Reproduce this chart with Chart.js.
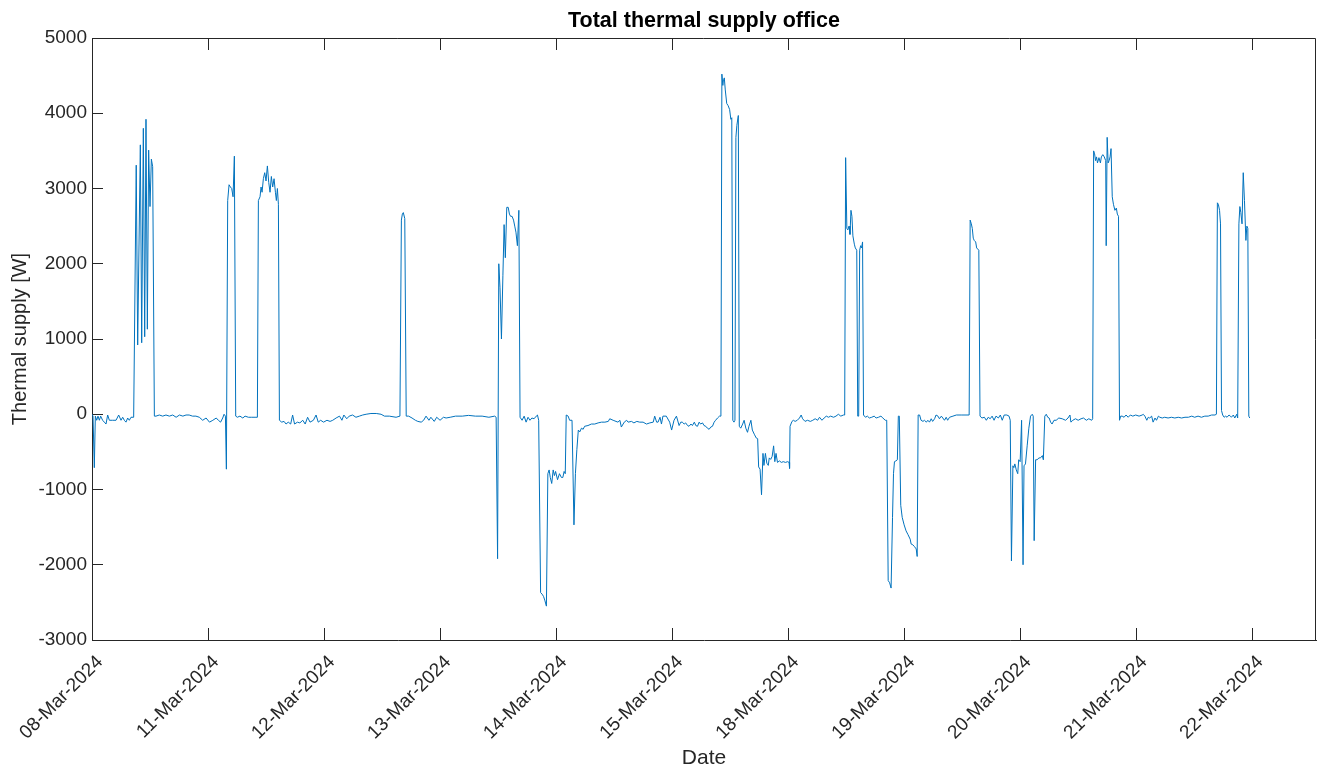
<!DOCTYPE html>
<html>
<head>
<meta charset="utf-8">
<script src="https://cdn.jsdelivr.net/npm/chart.js@4.4.1/dist/chart.umd.min.js"></script>
<style>
html,body{margin:0;padding:0;background:#fff;}
#wrap{width:1320px;height:771px;}
</style>
</head>
<body>
<div id="wrap"><canvas id="c" width="1320" height="771"></canvas></div>
<script>
// Tick labels (one per plotted day, weekends are skipped on the axis)
const dayLabels = ['08-Mar-2024','11-Mar-2024','12-Mar-2024','13-Mar-2024','14-Mar-2024','15-Mar-2024','18-Mar-2024','19-Mar-2024','20-Mar-2024','21-Mar-2024','22-Mar-2024'];
const yTicks = [-3000, -2000, -1000, 0, 1000, 2000, 3000, 4000, 5000];

// Thermal supply [W]; pairs of [hour of day, watts]
const d08Mar = [[0,0],[0.21,-25],[0.48,-710],[0.69,-25],[0.97,-80],[1.24,-25],[1.52,-80],[1.79,-25],[2.2,-80],[2.55,-105],[2.9,-130],[3.24,-10],[3.59,-80],[4.28,-80],[4.97,-80],[5.52,-10],[6.0,-80],[6.35,-40],[6.69,-80],[7.03,-105],[7.38,-50],[7.72,-80],[8.07,-40],[8.62,-40],[9.15,3310],[9.45,920],[10.0,3580],[10.28,950],[10.62,3800],[10.9,1030],[11.17,3920],[11.45,1130],[11.72,3510],[12.0,2760],[12.28,3390],[12.55,3290],[12.9,-25],[13.24,-25],[13.93,-10],[14.62,-25],[15.3,-10],[16.0,-25],[16.7,-10],[17.4,-40],[18.1,-10],[18.8,-25],[19.45,-10],[20.1,-10],[20.8,-25],[21.5,-25],[22.2,-40],[22.9,-80],[23.6,-50]];
const d11Mar = [[0.3,-105],[1.0,-80],[1.7,-50],[2.14,-80],[2.6,-105],[3.04,-50],[3.32,0],[3.6,-25],[3.8,-730],[4.07,2840],[4.35,3050],[4.63,3020],[4.9,3000],[5.18,2890],[5.45,3430],[5.73,-25],[6.07,-40],[6.6,-25],[7.2,-50],[7.66,-25],[8.35,-40],[9.04,-40],[9.73,-40],[10.21,-40],[10.42,2840],[10.76,2890],[10.97,3020],[11.18,2950],[11.45,3130],[11.73,3210],[12.0,3100],[12.28,3300],[12.56,3080],[12.83,2950],[13.1,3160],[13.38,3020],[13.66,3130],[13.94,2950],[14.14,2840],[14.35,3000],[14.56,2790],[14.77,-80],[15.25,-105],[15.73,-95],[16.14,-130],[16.6,-105],[17.1,-130],[17.5,-10],[17.9,-130],[18.5,-105],[19.0,-115],[19.6,-80],[20.1,-130],[20.6,-40],[21.1,-105],[21.8,-80],[22.35,-10],[22.8,-105],[23.3,-80],[23.9,-105]];
const d12Mar = [[0.6,-80],[1.25,-95],[1.8,-80],[2.5,-50],[3.2,-25],[3.7,-80],[4.1,-10],[4.7,-60],[5.2,-25],[5.9,-10],[6.6,-40],[7.3,-25],[8.0,-10],[8.7,0],[9.7,10],[10.8,10],[11.8,0],[12.5,-25],[13.5,-25],[14.9,-40],[15.7,-25],[16.0,2580],[16.2,2660],[16.4,2680],[16.7,2600],[17.0,-25],[17.5,-25],[18.2,-50],[18.9,-80],[19.4,-95],[20.1,-105],[20.6,-80],[21.1,-25],[21.7,-80],[22.1,-40],[22.8,-95],[23.3,-40]];
const d13Mar = [[0.0,-80],[0.7,-40],[1.25,-50],[2.1,-40],[3.2,-25],[4.6,-25],[5.9,-15],[7.3,-25],[8.7,-25],[10.1,-40],[11.3,-25],[11.6,-40],[11.9,-1920],[12.15,2000],[12.4,1680],[12.7,1000],[13.0,1840],[13.25,2520],[13.5,2080],[13.8,2750],[14.1,2750],[14.35,2660],[14.6,2630],[14.9,2630],[15.2,2580],[15.45,2500],[15.7,2420],[16.0,2240],[16.3,2710],[16.55,-40],[16.97,-80],[17.4,-25],[17.8,-105],[18.2,-40],[18.6,-80],[19.0,-50],[19.45,-60],[19.9,-25],[20.15,-10],[20.4,-80],[20.8,-2370],[21.1,-2390],[21.4,-2420],[21.66,-2470],[22.0,-2550],[22.3,-790],[22.56,-740],[22.8,-840],[23.1,-920],[23.4,-740],[23.66,-815],[23.9,-760]];
const d14Mar = [[0.3,-870],[0.7,-790],[1.1,-840],[1.4,-840],[1.66,-760],[1.9,-790],[2.1,-10],[2.5,-25],[2.8,-80],[3.3,-80],[3.7,-1470],[4.0,-790],[4.3,-470],[4.6,-210],[4.9,-235],[5.25,-185],[5.6,-200],[5.9,-160],[6.6,-150],[7.3,-130],[8.0,-130],[8.7,-115],[9.4,-105],[10.1,-105],[10.8,-95],[11.1,-60],[11.8,-80],[12.8,-105],[13.2,-80],[13.5,-170],[14.1,-105],[14.6,-80],[14.9,-105],[15.6,-95],[16.1,-115],[16.7,-95],[17.3,-105],[18.0,-105],[18.7,-130],[19.4,-115],[20.1,-105],[20.4,-25],[20.8,-105],[21.1,-105],[21.5,-40],[21.8,-130],[22.1,-25],[22.8,-25],[23.5,-105],[23.9,-210]];
const d15Mar = [[0.4,-80],[0.9,-25],[1.45,-150],[1.8,-105],[2.1,-105],[2.5,-130],[2.8,-115],[3.2,-150],[3.5,-160],[3.9,-130],[4.2,-150],[4.6,-105],[4.9,-150],[5.25,-160],[5.6,-105],[5.9,-130],[6.3,-115],[6.6,-150],[6.97,-160],[7.3,-185],[7.66,-200],[8.0,-170],[8.35,-160],[8.7,-105],[9.0,-80],[9.4,-50],[9.8,-25],[10.1,-25],[10.3,4520],[10.5,4370],[10.6,4430],[10.8,4470],[11.0,4310],[11.3,4130],[11.6,4100],[11.9,4050],[12.15,3920],[12.35,3940],[12.56,-80],[12.8,-105],[13.0,-80],[13.2,3680],[13.4,3840],[13.7,3970],[13.9,-160],[14.2,-185],[14.6,-130],[14.9,-80],[15.25,-185],[15.6,-240],[15.9,-160],[16.3,-80],[16.6,-210],[17.0,-265],[17.4,-315],[17.7,-325],[17.9,-700],[18.2,-730],[18.5,-1070],[18.8,-520],[19.0,-680],[19.3,-520],[19.6,-650],[19.9,-680],[20.1,-580],[20.4,-600],[20.7,-560],[21.0,-420],[21.25,-630],[21.5,-520],[21.8,-640],[22.2,-620],[22.6,-640],[23.0,-630],[23.45,-640],[23.9,-630]];
const d18Mar = [[0.2,-640],[0.3,-720],[0.4,-160],[0.8,-95],[1.1,-80],[1.45,-95],[1.9,-80],[2.35,-50],[2.7,-10],[3.0,-60],[3.5,-95],[4.0,-80],[4.6,-95],[5.1,-80],[5.6,-60],[6.1,-80],[6.5,-40],[7.0,-80],[7.45,-50],[7.9,-25],[8.35,-40],[8.8,-25],[9.4,-40],[9.9,-25],[10.4,0],[10.9,-25],[11.45,-10],[11.7,-10],[11.9,3410],[12.15,2470],[12.35,2450],[12.6,2500],[12.8,2390],[13.0,2710],[13.2,2630],[13.4,2370],[13.7,2260],[13.9,2210],[14.2,2180],[14.4,-25],[14.6,-25],[14.8,2180],[15.0,2240],[15.2,2210],[15.4,2290],[15.6,-10],[16.0,-40],[16.4,-25],[16.8,-50],[17.3,-40],[17.8,-25],[18.2,-50],[18.7,-40],[19.2,-25],[19.6,-50],[20.1,-80],[20.4,-80],[20.7,-2210],[21.0,-2240],[21.3,-2310],[21.6,-1370],[21.8,-790],[22.0,-630],[22.3,-620],[22.6,-605],[22.8,-25],[23.0,-25],[23.3,-1210],[23.6,-1370]];
const d19Mar = [[0.0,-1470],[0.4,-1550],[0.8,-1600],[1.25,-1660],[1.45,-1725],[1.8,-1735],[2.15,-1760],[2.5,-1790],[2.7,-1890],[2.9,-10],[3.2,-10],[3.5,-80],[3.9,-95],[4.2,-80],[4.6,-105],[4.9,-80],[5.25,-105],[5.6,-60],[5.9,-95],[6.3,-60],[6.6,-10],[7.0,-25],[7.3,-60],[7.7,-25],[8.0,-50],[8.35,-80],[8.7,-40],[9.0,-80],[9.4,-40],[10.1,-25],[10.8,-10],[11.8,-10],[12.8,-10],[13.45,-10],[13.66,2580],[13.9,2530],[14.1,2470],[14.3,2340],[14.5,2310],[14.8,2290],[15.0,2210],[15.45,2180],[15.7,-25],[16.1,-50],[16.6,-40],[17.0,-80],[17.4,-40],[17.8,-60],[18.2,-25],[18.6,-80],[19.0,-25],[19.5,-50],[19.9,-10],[20.3,-80],[20.7,-10],[21.25,-10],[21.7,-25],[21.95,-80],[22.2,-1950],[22.5,-685],[22.7,-710],[22.9,-660],[23.2,-740],[23.5,-790],[23.7,-605]];
const d20Mar = [[0.0,-630],[0.3,-80],[0.6,-2000],[0.8,-685],[1.1,-660],[1.45,-420],[1.8,-185],[2.15,-25],[2.5,0],[2.7,-25],[2.9,-1680],[3.2,-605],[3.5,-605],[3.9,-580],[4.2,-580],[4.6,-550],[4.8,-605],[5.1,-25],[5.4,0],[5.7,-40],[6.0,-50],[6.3,-105],[6.6,-130],[7.0,-80],[7.45,-80],[8.0,-50],[8.7,-60],[9.4,-80],[9.9,-50],[10.3,-10],[10.5,-105],[10.9,-80],[11.45,-60],[12.0,-80],[12.6,-60],[13.1,-50],[13.7,-80],[14.2,-60],[14.8,-80],[15.0,-60],[15.2,3500],[15.4,3460],[15.6,3370],[15.8,3420],[16.0,3340],[16.3,3410],[16.6,3340],[16.8,3420],[17.1,3450],[17.4,3420],[17.7,3370],[17.8,2240],[18.0,3680],[18.2,3340],[18.4,3370],[18.6,3420],[18.8,3530],[19.05,2890],[19.3,2790],[19.6,2710],[19.9,2740],[20.1,2660],[20.35,2630],[20.55,-80],[20.8,-25],[21.1,-25],[21.5,-40],[21.9,-10],[22.35,-40],[22.8,-10],[23.3,-25],[23.9,-10]];
const d21Mar = [[0.6,-25],[1.25,-10],[1.45,0],[1.8,-25],[2.2,-80],[2.5,-40],[2.8,-50],[3.2,-25],[3.5,-105],[3.9,-50],[4.2,-80],[4.6,-25],[4.9,-40],[5.4,-50],[5.9,-40],[6.6,-50],[7.3,-40],[8.0,-50],[8.7,-40],[9.4,-50],[10.1,-40],[10.8,-40],[11.5,-25],[12.1,-40],[12.8,-25],[13.5,-40],[14.2,-25],[14.9,-25],[15.6,-10],[16.3,-10],[16.6,0],[16.8,2810],[17.0,2790],[17.25,2710],[17.45,2530],[17.65,50],[17.9,-10],[18.2,-40],[18.5,-25],[18.8,-40],[19.2,-10],[19.5,-25],[19.7,-40],[20.1,-10],[20.4,-50],[20.8,0],[21.0,-50],[21.25,2530],[21.45,2760],[21.65,2680],[21.9,2530],[22.15,3210],[22.4,2840],[22.7,2310],[22.9,2500],[23.1,2470],[23.3,-25],[23.5,-50]];

const dayData = [d08Mar, d11Mar, d12Mar, d13Mar, d14Mar, d15Mar, d18Mar, d19Mar, d20Mar, d21Mar];
const points = [];
dayData.forEach((arr, i) => arr.forEach(([h, w]) => points.push({x: i * 24 + h, y: w})));

const FONT = '"Liberation Sans", Arial, Helvetica, sans-serif';
const AX = '#262626';

const boxPlugin = {
  id: 'boxPlugin',
  afterDraw(chart) {
    const {ctx, chartArea: a, scales: {x}} = chart;
    ctx.save();
    ctx.strokeStyle = AX;
    ctx.lineWidth = 1;
    ctx.beginPath();
    ctx.moveTo(a.left, a.top + 0.5);
    ctx.lineTo(a.right - 0.5, a.top + 0.5);
    ctx.lineTo(a.right - 0.5, a.bottom);
    x.ticks.forEach(t => {
      const px = Math.round(x.getPixelForValue(t.value)) + 0.5;
      ctx.moveTo(px, a.top);
      ctx.lineTo(px, a.top + 12);
    });
    ctx.stroke();
    ctx.restore();
  }
};

new Chart(document.getElementById('c'), {
  type: 'line',
  data: {
    datasets: [{
      data: points,
      borderColor: '#0072BD',
      borderWidth: 1,
      pointRadius: 0,
      tension: 0,
      fill: false
    }]
  },
  options: {
    responsive: false,
    animation: false,
    devicePixelRatio: 1,
    layout: {padding: {left: 0, right: 4, top: 0, bottom: 0}},
    plugins: {
      legend: {display: false},
      tooltip: {enabled: false},
      title: {
        display: true,
        text: 'Total thermal supply office',
        fullSize: false,
        color: '#000',
        font: {family: FONT, size: 21.5, weight: 'bold', lineHeight: 1.2},
        padding: {top: 8, bottom: 4.2}
      }
    },
    scales: {
      x: {
        type: 'linear',
        min: 0,
        max: 253.2,
        afterBuildTicks: s => { s.ticks = dayLabels.map((_, i) => ({value: i * 24})); },
        afterFit: s => { s.height = 131; s.paddingLeft = 0; s.paddingRight = 0; },
        ticks: {
          autoSkip: false,
          maxRotation: 45,
          minRotation: 45,
          padding: 23,
          labelOffset: 8,
          color: AX,
          font: {family: FONT, size: 19},
          callback: v => dayLabels[Math.round(v / 24)]
        },
        grid: {drawOnChartArea: false, tickLength: -12, color: AX, lineWidth: 1},
        border: {color: AX, width: 1},
        title: {display: true, text: 'Date', color: AX, font: {family: FONT, size: 21}, padding: {top: 0, bottom: 0}}
      },
      y: {
        min: -3000,
        max: 5000,
        afterBuildTicks: s => { s.ticks = yTicks.map(v => ({value: v})); },
        afterFit: s => { s.width = 92; },
        ticks: {
          color: AX,
          padding: 16,
          font: {family: FONT, size: 19},
          callback: v => String(v)
        },
        grid: {drawOnChartArea: false, tickLength: -11, color: AX, lineWidth: 1},
        border: {color: AX, width: 1},
        title: {display: true, text: 'Thermal supply [W]', color: AX, font: {family: FONT, size: 20}, padding: {top: 8, bottom: 0}}
      }
    }
  },
  plugins: [boxPlugin]
});
</script>
</body>
</html>
